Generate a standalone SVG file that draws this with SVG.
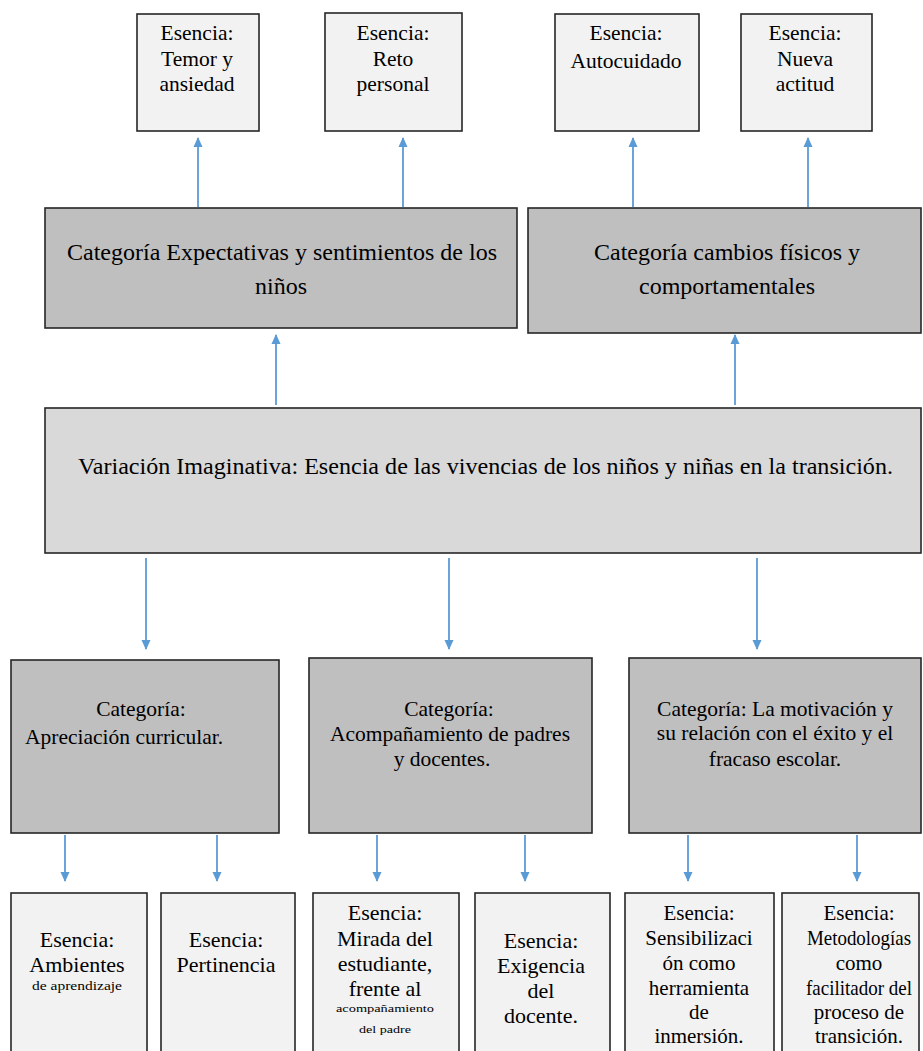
<svg xmlns="http://www.w3.org/2000/svg" width="923" height="1051" viewBox="0 0 923 1051">
<defs>
<marker id="ah" viewBox="0 0 10 10" refX="9" refY="5" markerWidth="10" markerHeight="10" markerUnits="userSpaceOnUse" orient="auto">
<path d="M0,0.5 L10,5 L0,9.5 Z" fill="#5b9bd5"/>
</marker>
</defs>

<g id="connectors" stroke="#5b9bd5" stroke-width="1.8" fill="none">
<line x1="198" y1="207" x2="198" y2="138" marker-end="url(#ah)"/>
<line x1="403" y1="207" x2="403" y2="138" marker-end="url(#ah)"/>
<line x1="633" y1="207" x2="633" y2="138" marker-end="url(#ah)"/>
<line x1="808" y1="207" x2="808" y2="138" marker-end="url(#ah)"/>
<line x1="276" y1="405" x2="276" y2="335" marker-end="url(#ah)"/>
<line x1="735" y1="405" x2="735" y2="335" marker-end="url(#ah)"/>
<line x1="146" y1="558" x2="146" y2="649" marker-end="url(#ah)"/>
<line x1="449" y1="558" x2="449" y2="649" marker-end="url(#ah)"/>
<line x1="757" y1="558" x2="757" y2="649" marker-end="url(#ah)"/>
<line x1="65" y1="835" x2="65" y2="881" marker-end="url(#ah)"/>
<line x1="217" y1="835" x2="217" y2="881" marker-end="url(#ah)"/>
<line x1="377" y1="835" x2="377" y2="881" marker-end="url(#ah)"/>
<line x1="525" y1="835" x2="525" y2="881" marker-end="url(#ah)"/>
<line x1="688" y1="835" x2="688" y2="881" marker-end="url(#ah)"/>
<line x1="857" y1="835" x2="857" y2="881" marker-end="url(#ah)"/>
</g>

<g id="ess-temor">
<rect x="137" y="14" width="122" height="117" fill="#f2f2f2" stroke="#262626" stroke-width="1.6"/>
<text font-family="Times New Roman, Liberation Serif, serif" font-size="21.5" text-anchor="middle" x="197" y="40">Esencia:</text>
<text font-family="Times New Roman, Liberation Serif, serif" font-size="21.5" text-anchor="middle" x="197" y="66">Temor y</text>
<text font-family="Times New Roman, Liberation Serif, serif" font-size="21.5" text-anchor="middle" x="197" y="91">ansiedad</text>
</g>
<g id="ess-reto">
<rect x="325" y="13" width="137" height="118" fill="#f2f2f2" stroke="#262626" stroke-width="1.6"/>
<text font-family="Times New Roman, Liberation Serif, serif" font-size="21.5" text-anchor="middle" x="393" y="40">Esencia:</text>
<text font-family="Times New Roman, Liberation Serif, serif" font-size="21.5" text-anchor="middle" x="393" y="66">Reto</text>
<text font-family="Times New Roman, Liberation Serif, serif" font-size="21.5" text-anchor="middle" x="393" y="91">personal</text>
</g>
<g id="ess-autocuidado">
<rect x="555" y="14" width="144" height="117" fill="#f2f2f2" stroke="#262626" stroke-width="1.6"/>
<text font-family="Times New Roman, Liberation Serif, serif" font-size="21.5" text-anchor="middle" x="626" y="40">Esencia:</text>
<text font-family="Times New Roman, Liberation Serif, serif" font-size="21.5" text-anchor="middle" x="626" y="68">Autocuidado</text>
</g>
<g id="ess-nueva">
<rect x="741" y="14" width="131" height="117" fill="#f2f2f2" stroke="#262626" stroke-width="1.6"/>
<text font-family="Times New Roman, Liberation Serif, serif" font-size="21.5" text-anchor="middle" x="805" y="40">Esencia:</text>
<text font-family="Times New Roman, Liberation Serif, serif" font-size="21.5" text-anchor="middle" x="805" y="66">Nueva</text>
<text font-family="Times New Roman, Liberation Serif, serif" font-size="21.5" text-anchor="middle" x="805" y="91">actitud</text>
</g>

<g id="cat-expectativas">
<rect x="45" y="208" width="472" height="120" fill="#bfbfbf" stroke="#262626" stroke-width="1.6"/>
<text font-family="Times New Roman, Liberation Serif, serif" font-size="24" x="67" y="260" textLength="430" lengthAdjust="spacingAndGlyphs">Categoría Expectativas y sentimientos de los</text>
<text font-family="Times New Roman, Liberation Serif, serif" font-size="24" text-anchor="middle" x="281" y="294">niños</text>
</g>
<g id="cat-cambios">
<rect x="528" y="208" width="393" height="125" fill="#bfbfbf" stroke="#262626" stroke-width="1.6"/>
<text font-family="Times New Roman, Liberation Serif, serif" font-size="24" text-anchor="middle" x="727" y="260">Categoría cambios físicos y</text>
<text font-family="Times New Roman, Liberation Serif, serif" font-size="24" text-anchor="middle" x="727" y="294">comportamentales</text>
</g>

<g id="variacion">
<rect x="45" y="408" width="876" height="145" fill="#d9d9d9" stroke="#262626" stroke-width="1.6"/>
<text font-family="Times New Roman, Liberation Serif, serif" font-size="24" x="78" y="474" textLength="815" lengthAdjust="spacingAndGlyphs">Variación Imaginativa: Esencia de las vivencias de los niños y niñas en la transición.</text>
</g>

<g id="cat-apreciacion">
<rect x="11" y="660" width="268" height="173" fill="#bfbfbf" stroke="#262626" stroke-width="1.6"/>
<text font-family="Times New Roman, Liberation Serif, serif" font-size="21.5" text-anchor="middle" x="141" y="716">Categoría:</text>
<text font-family="Times New Roman, Liberation Serif, serif" font-size="21.5" x="25" y="744">Apreciación curricular.</text>
</g>
<g id="cat-acompanamiento">
<rect x="309" y="658" width="283" height="175" fill="#bfbfbf" stroke="#262626" stroke-width="1.6"/>
<text font-family="Times New Roman, Liberation Serif, serif" font-size="21.5" text-anchor="middle" x="449" y="716">Categoría:</text>
<text font-family="Times New Roman, Liberation Serif, serif" font-size="21.5" text-anchor="middle" x="450" y="741">Acompañamiento de padres</text>
<text font-family="Times New Roman, Liberation Serif, serif" font-size="21.5" text-anchor="middle" x="442" y="766">y docentes.</text>
</g>
<g id="cat-motivacion">
<rect x="629" y="658" width="292" height="175" fill="#bfbfbf" stroke="#262626" stroke-width="1.6"/>
<text font-family="Times New Roman, Liberation Serif, serif" font-size="21.5" text-anchor="middle" x="775" y="716">Categoría: La motivación y</text>
<text font-family="Times New Roman, Liberation Serif, serif" font-size="21.5" text-anchor="middle" x="775" y="740">su relación con el éxito y el</text>
<text font-family="Times New Roman, Liberation Serif, serif" font-size="21.5" text-anchor="middle" x="775" y="766">fracaso escolar.</text>
</g>

<g id="ess-ambientes">
<rect x="11" y="893" width="136" height="170" fill="#f2f2f2" stroke="#262626" stroke-width="1.6"/>
<text font-family="Times New Roman, Liberation Serif, serif" font-size="22" text-anchor="middle" x="77" y="947">Esencia:</text>
<text font-family="Times New Roman, Liberation Serif, serif" font-size="22" text-anchor="middle" x="77" y="972">Ambientes</text>
<text font-family="Times New Roman, Liberation Serif, serif" font-size="11.5" text-anchor="middle" x="77" y="990" textLength="90" lengthAdjust="spacingAndGlyphs">de aprendizaje</text>
</g>
<g id="ess-pertinencia">
<rect x="161" y="893" width="134" height="170" fill="#f2f2f2" stroke="#262626" stroke-width="1.6"/>
<text font-family="Times New Roman, Liberation Serif, serif" font-size="22" text-anchor="middle" x="226" y="947">Esencia:</text>
<text font-family="Times New Roman, Liberation Serif, serif" font-size="22" text-anchor="middle" x="226" y="972">Pertinencia</text>
</g>
<g id="ess-mirada">
<rect x="313" y="893" width="146" height="170" fill="#f2f2f2" stroke="#262626" stroke-width="1.6"/>
<text font-family="Times New Roman, Liberation Serif, serif" font-size="22" text-anchor="middle" x="385" y="920">Esencia:</text>
<text font-family="Times New Roman, Liberation Serif, serif" font-size="22" text-anchor="middle" x="385" y="946">Mirada del</text>
<text font-family="Times New Roman, Liberation Serif, serif" font-size="22" text-anchor="middle" x="385" y="971">estudiante,</text>
<text font-family="Times New Roman, Liberation Serif, serif" font-size="22" text-anchor="middle" x="385" y="996">frente al</text>
<text font-family="Times New Roman, Liberation Serif, serif" font-size="11" text-anchor="middle" x="385" y="1012" textLength="98" lengthAdjust="spacingAndGlyphs">acompañamiento</text>
<text font-family="Times New Roman, Liberation Serif, serif" font-size="11" text-anchor="middle" x="385" y="1033" textLength="52" lengthAdjust="spacingAndGlyphs">del padre</text>
</g>
<g id="ess-exigencia">
<rect x="475" y="893" width="135" height="170" fill="#f2f2f2" stroke="#262626" stroke-width="1.6"/>
<text font-family="Times New Roman, Liberation Serif, serif" font-size="22" text-anchor="middle" x="541" y="948">Esencia:</text>
<text font-family="Times New Roman, Liberation Serif, serif" font-size="22" text-anchor="middle" x="541" y="973">Exigencia</text>
<text font-family="Times New Roman, Liberation Serif, serif" font-size="22" text-anchor="middle" x="541" y="998">del</text>
<text font-family="Times New Roman, Liberation Serif, serif" font-size="22" text-anchor="middle" x="541" y="1023">docente.</text>
</g>
<g id="ess-sensibilizacion">
<rect x="625" y="893" width="149" height="170" fill="#f2f2f2" stroke="#262626" stroke-width="1.6"/>
<text font-family="Times New Roman, Liberation Serif, serif" font-size="21" text-anchor="middle" x="699" y="920">Esencia:</text>
<text font-family="Times New Roman, Liberation Serif, serif" font-size="21" text-anchor="middle" x="699" y="945">Sensibilizaci</text>
<text font-family="Times New Roman, Liberation Serif, serif" font-size="21" text-anchor="middle" x="699" y="970">ón como</text>
<text font-family="Times New Roman, Liberation Serif, serif" font-size="21" text-anchor="middle" x="699" y="995">herramienta</text>
<text font-family="Times New Roman, Liberation Serif, serif" font-size="21" text-anchor="middle" x="699" y="1019">de</text>
<text font-family="Times New Roman, Liberation Serif, serif" font-size="21" text-anchor="middle" x="699" y="1043">inmersión.</text>
</g>
<g id="ess-metodologias">
<rect x="782" y="893" width="137" height="170" fill="#f2f2f2" stroke="#262626" stroke-width="1.6"/>
<text font-family="Times New Roman, Liberation Serif, serif" font-size="21" text-anchor="middle" x="859" y="920">Esencia:</text>
<text font-family="Times New Roman, Liberation Serif, serif" font-size="21" text-anchor="middle" x="859" y="945" textLength="104" lengthAdjust="spacingAndGlyphs">Metodologías</text>
<text font-family="Times New Roman, Liberation Serif, serif" font-size="21" text-anchor="middle" x="859" y="970">como</text>
<text font-family="Times New Roman, Liberation Serif, serif" font-size="21" text-anchor="middle" x="859" y="995" textLength="106" lengthAdjust="spacingAndGlyphs">facilitador del</text>
<text font-family="Times New Roman, Liberation Serif, serif" font-size="21" text-anchor="middle" x="859" y="1019">proceso de</text>
<text font-family="Times New Roman, Liberation Serif, serif" font-size="21" text-anchor="middle" x="859" y="1043">transición.</text>
</g>
</svg>
